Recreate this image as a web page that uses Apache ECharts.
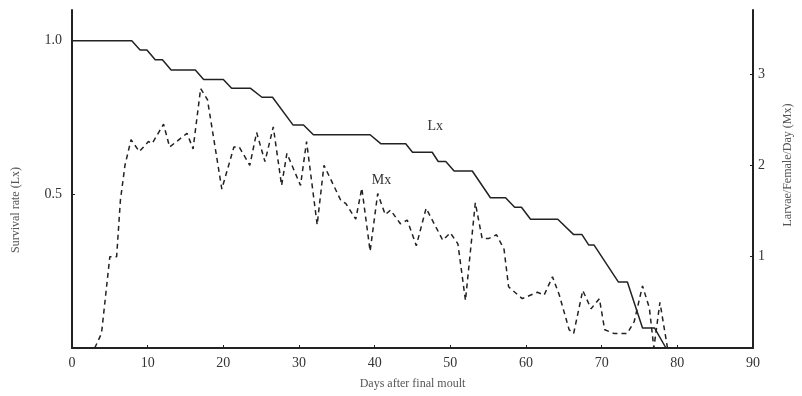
<!DOCTYPE html>
<html>
<head>
<meta charset="utf-8">
<script src="https://cdn.jsdelivr.net/npm/echarts@6/dist/echarts.min.js"></script>
<style>
  html, body { margin: 0; padding: 0; background: #fff; }
  #chart { width: 802px; height: 396px; }
</style>
</head>
<body>
<div id="chart"></div>
<script>
// survival rate Lx: [day, value] corners of the staircase
const lxPoints = [
  [0, 1.0], [7.9, 1.0], [9.0, 0.970], [9.9, 0.970], [11.0, 0.938], [11.95, 0.938],
  [13.1, 0.905], [16.3, 0.905], [17.4, 0.874], [20.0, 0.874], [21.1, 0.845], [23.6, 0.845],
  [25.1, 0.816], [26.5, 0.816], [29.2, 0.726], [30.6, 0.726], [31.9, 0.694], [39.4, 0.694],
  [40.8, 0.665], [44.1, 0.665], [45.0, 0.637], [47.6, 0.637], [48.4, 0.607], [49.4, 0.607],
  [50.5, 0.576], [52.9, 0.576], [55.3, 0.489], [57.3, 0.489], [58.5, 0.458], [59.4, 0.458],
  [60.6, 0.419], [64.2, 0.419], [66.3, 0.369], [67.4, 0.369], [68.3, 0.335], [69.0, 0.335],
  [72.2, 0.215], [73.4, 0.215], [75.4, 0.065], [77.0, 0.065], [78.5, 0]
];

// larvae / female / day Mx
const mxPoints = [
  [3.0, 0], [3.9, 0.16], [5.0, 1.0], [5.9, 1.0], [6.4, 1.62], [7.0, 2.0], [7.8, 2.28],
  [8.9, 2.15], [10.1, 2.26], [10.6, 2.24], [12.1, 2.45], [12.9, 2.2], [15.2, 2.35],
  [16.0, 2.18], [17.0, 2.84], [17.9, 2.72], [19.8, 1.74], [21.4, 2.2], [22.1, 2.2],
  [23.5, 2.0], [24.4, 2.36], [25.5, 2.04], [26.6, 2.42], [27.7, 1.78], [28.4, 2.13],
  [30.2, 1.78], [31.0, 2.26], [32.4, 1.35], [33.3, 2.0], [35.5, 1.62], [36.2, 1.58],
  [37.5, 1.41], [38.3, 1.75], [39.4, 1.06], [40.4, 1.69], [41.4, 1.46], [42.1, 1.51],
  [43.4, 1.36], [44.3, 1.4], [45.5, 1.12], [46.8, 1.53], [49.0, 1.18], [50.0, 1.26],
  [51.0, 1.14], [52.0, 0.52], [53.3, 1.59], [54.2, 1.2], [55.1, 1.2], [56.1, 1.24],
  [57.1, 1.08], [57.7, 0.67], [59.5, 0.54], [61.5, 0.61], [62.4, 0.58], [63.5, 0.78],
  [64.4, 0.58], [65.7, 0.2], [66.3, 0.16], [67.5, 0.63], [68.6, 0.43], [69.7, 0.54],
  [70.4, 0.2], [71.6, 0.16], [73.4, 0.16], [74.3, 0.29], [75.4, 0.68], [76.3, 0.44],
  [76.9, 0], [77.7, 0.5], [78.7, 0]
];

const lxLabelAt = [48.0, 0.72];
const mxLabelAt = [40.9, 1.84];

const serif = '"Liberation Serif", "DejaVu Serif", serif';
const ink = '#222';
const hint = '#555';

const chart = echarts.init(document.getElementById('chart'));

chart.setOption({
  animation: false,
  textStyle: { fontFamily: serif },
  grid: { left: 72, right: 49, top: 10, bottom: 48 },
  xAxis: {
    type: 'value',
    min: 0,
    max: 90,
    interval: 10,
    name: 'Days after final moult',
    nameLocation: 'middle',
    nameGap: 30,
    nameTextStyle: { color: hint, fontSize: 12, fontFamily: serif },
    axisLine: { lineStyle: { color: ink, width: 2 } },
    axisTick: { inside: true, length: 3, lineStyle: { color: ink } },
    axisLabel: { color: '#333', fontSize: 14, fontFamily: serif, margin: 8 },
    splitLine: { show: false }
  },
  yAxis: [
    {
      type: 'value',
      min: 0,
      max: 1.1,
      interval: 0.5,
      axisLine: { show: true, lineStyle: { color: ink, width: 2 } },
      axisTick: { show: true, inside: true, length: 3, lineStyle: { color: ink } },
      axisLabel: {
        color: '#333', fontSize: 14, fontFamily: serif, margin: 10,
        showMinLabel: false, showMaxLabel: false,
        formatter: (v) => v.toFixed(1)
      },
      splitLine: { show: false }
    },
    {
      type: 'value',
      min: 0,
      max: 3.7,
      interval: 1,
      position: 'right',
      axisLine: { show: true, lineStyle: { color: ink, width: 2 } },
      axisTick: { show: true, inside: true, length: 3, lineStyle: { color: ink } },
      axisLabel: {
        color: '#333', fontSize: 14, fontFamily: serif, margin: 5,
        showMinLabel: false, showMaxLabel: false
      },
      splitLine: { show: false }
    }
  ],
  graphic: [
    {
      type: 'text', x: 16, y: 210, rotation: Math.PI / 2,
      style: { text: 'Survival rate (Lx)', fill: hint, font: '12px ' + serif, align: 'center', verticalAlign: 'middle' }
    },
    {
      type: 'text', x: 788, y: 165, rotation: Math.PI / 2,
      style: { text: 'Larvae/Female/Day (Mx)', fill: hint, font: '12px ' + serif, align: 'center', verticalAlign: 'middle' }
    }
  ],
  series: [
    {
      name: 'Lx',
      type: 'line',
      yAxisIndex: 0,
      data: lxPoints,
      showSymbol: false,
      lineStyle: { color: ink, width: 1.5 },
      markPoint: {
        symbol: 'circle', symbolSize: 0,
        label: { show: true, formatter: 'Lx', color: '#333', fontSize: 14, fontFamily: serif },
        data: [{ coord: lxLabelAt }]
      }
    },
    {
      name: 'Mx',
      type: 'line',
      yAxisIndex: 1,
      data: mxPoints,
      showSymbol: false,
      lineStyle: { color: ink, width: 1.5, type: [5, 4] },
      markPoint: {
        symbol: 'circle', symbolSize: 0,
        label: { show: true, formatter: 'Mx', color: '#333', fontSize: 14, fontFamily: serif },
        data: [{ coord: mxLabelAt }]
      }
    }
  ]
});
</script>
</body>
</html>
